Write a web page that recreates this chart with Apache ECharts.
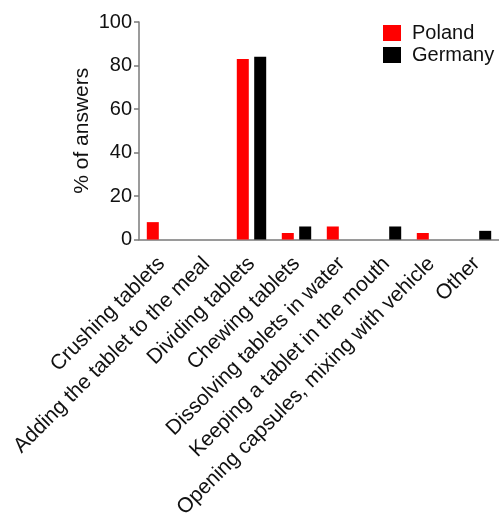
<!DOCTYPE html>
<html>
<head>
<meta charset="utf-8">
<script src="https://cdn.jsdelivr.net/npm/echarts@6/dist/echarts.min.js"></script>
<style>
  html, body { margin: 0; padding: 0; background: #fff; }
  #chart { width: 499px; height: 521px; }
</style>
</head>
<body>
<div id="chart"></div>
<script>
// Ways of modifying solid oral dosage forms, share of answers per country
const categories = [
  'Crushing tablets',
  'Adding the tablet to the meal',
  'Dividing tablets',
  'Chewing tablets',
  'Dissolving tablets in water',
  'Keeping a tablet in the mouth',
  'Opening capsules, mixing with vehicle',
  'Other'
];
const poland  = [8, 0, 83, 3, 6, 0, 3, 0];
const germany = [0, 0, 84, 6, 0, 6, 0, 4];
const yTicks = [0, 20, 40, 60, 80, 100];

const FONT = 'Liberation Sans, Arial, sans-serif';
const AXIS_GREY = '#7a7a7a';

const chart = echarts.init(document.getElementById('chart'), null, { renderer: 'canvas' });

chart.setOption({
  animation: false,
  backgroundColor: '#ffffff',
  textStyle: { fontFamily: FONT, color: '#111' },
  grid: { left: 139, right: -1, top: 22, bottom: 281, containLabel: false },
  legend: {
    data: ['Poland', 'Germany'],
    orient: 'vertical',
    left: 383,
    top: 22,
    padding: 0,
    itemWidth: 18,
    itemHeight: 16,
    itemGap: 0,
    icon: 'rect',
    textStyle: { fontFamily: FONT, fontSize: 20, lineHeight: 22, color: '#111', padding: [0, 0, 0, 6] }
  },
  xAxis: {
    type: 'category',
    data: categories,
    axisLine: { lineStyle: { color: AXIS_GREY, width: 1.5 } },
    axisTick: { alignWithLabel: true, length: 6, lineStyle: { color: AXIS_GREY, width: 1.5 } },
    axisLabel: {
      rotate: 45,
      interval: 0,
      margin: 21,
      fontFamily: FONT,
      fontSize: 21,
      color: '#111'
    }
  },
  yAxis: {
    type: 'value',
    min: yTicks[0],
    max: yTicks[yTicks.length - 1],
    interval: yTicks[1] - yTicks[0],
    name: '% of answers',
    nameLocation: 'middle',
    nameGap: 46,
    nameRotate: 90,
    nameMoveOverlap: false,
    nameTextStyle: { fontFamily: FONT, fontSize: 21, color: '#111' },
    splitLine: { show: false },
    axisLine: { show: true, lineStyle: { color: AXIS_GREY, width: 1.5 } },
    axisTick: { show: true, length: 5, lineStyle: { color: AXIS_GREY, width: 1.5 } },
    axisLabel: { margin: 7, fontFamily: FONT, fontSize: 20, color: '#111' }
  },
  series: [
    {
      name: 'Poland',
      type: 'bar',
      data: poland,
      barWidth: 12,
      barGap: '45%',
      itemStyle: { color: '#ff0000' }
    },
    {
      name: 'Germany',
      type: 'bar',
      data: germany,
      barWidth: 12,
      itemStyle: { color: '#000000' }
    }
  ]
});
</script>
</body>
</html>
